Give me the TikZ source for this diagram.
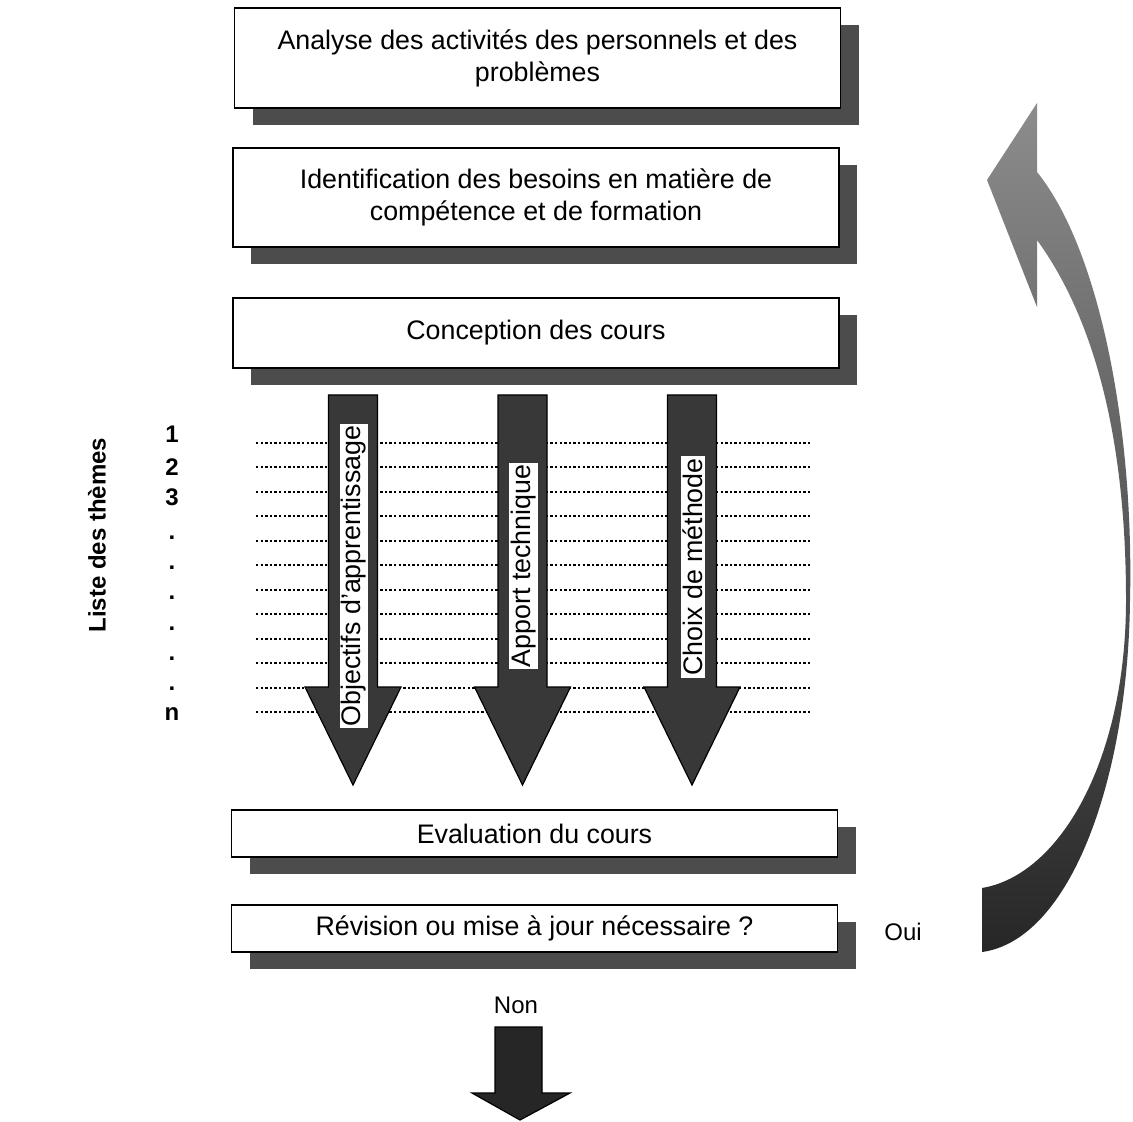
\documentclass[tikz,border=0pt]{standalone}
\usepackage{fontspec}
\setmainfont{Liberation Sans}
\usetikzlibrary{shadows}

\tikzset{
  stepbox/.style={draw=black, line width=0.9pt, fill=white, minimum width=303pt,
    align=center, inner sep=2pt, font=\fontsize{13.4}{16}\selectfont,
    drop shadow={shadow xshift=9pt, shadow yshift=-8.5pt, fill=black!70, opacity=1}},
  themeline/.style={line width=1pt, dash pattern=on 1.2pt off 1.1pt},
  fatarrow/.style={draw=black, line width=0.6pt, fill=black!78},
  armlabel/.style={fill=white, inner sep=1pt, rotate=90, font=\fontsize{13.4}{15}\selectfont},
  themenum/.style={font=\bfseries\fontsize{12}{14}\selectfont, anchor=base},
  plain/.style={font=\fontsize{12}{14}\selectfont}
}

\begin{document}
\begin{tikzpicture}[x=0.5pt,y=-0.5pt]
\useasboundingbox (0,0) rectangle (1133,1122);

% lines of the themes
\foreach \i in {0,...,11}
  \draw[themeline] (256,{443+24.45*\i}) -- (812,{443+24.45*\i});

\node[stepbox, minimum height=50pt] (analyse) at (537.5,58) {Analyse des activités des personnels et des\\probl\`emes};
\node[stepbox, minimum height=49.5pt] (besoins) at (536,197.5) {Identification des besoins en matière de\\compétence et de formation};
\node[stepbox, minimum height=35pt] (conception) at (536,333) {Conception des cours};
\node[stepbox, minimum height=23.5pt] (evaluation) at (534.5,833.5) {Evaluation du cours};
\node[stepbox, minimum height=23.5pt] (revision) at (534.5,928.5) {Révision ou mise à jour nécessaire ?};

% three arrows through the themes
\foreach \xc/\name/\txt/\ty in {353/objectifs/{Objectifs d'apprentissage}/576,
    522.5/apport/{Apport technique}/566, 692/choix/{Choix de méthode}/567} {
  \filldraw[fatarrow] (\xc-24.5,395) -- (\xc+24.5,395) -- (\xc+24.5,687) -- (\xc+48,687)
    -- (\xc,785) -- (\xc-48,687) -- (\xc-24.5,687) -- cycle;
  \node[armlabel] (\name) at (\xc+1,\ty) {\txt};
}

\node[rotate=90, font=\bfseries\fontsize{12}{14}\selectfont] (liste) at (97,535) {Liste des thèmes};
\foreach \lbl/\yy [count=\k] in {1/443,2/475,3/505,./539,./569,./599,./630,./660,./690,n/720}
  \node[themenum] (num\k) at (172,\yy) {\lbl};

\node[plain] (oui) at (903,932) {Oui};
\node[plain] (non) at (516,1005) {Non};

% way out
\filldraw[fatarrow, fill=black!85] (495,1027) -- (542,1027) -- (542,1093) -- (570,1093)
  -- (520,1120) -- (472,1093) -- (495,1093) -- cycle;

% loop back
\shade[top color=black!45, middle color=black!3, bottom color=black!85]
  (982,952) .. controls (1070,940) and (1128,780) .. (1130,600)
  .. controls (1134,430) and (1100,250) .. (1037,172)
  -- (1037,103) -- (987,180) -- (1037,307) -- (1037,240)
  .. controls (1095,320) and (1126,440) .. (1126,600)
  .. controls (1126,760) and (1060,875) .. (982,888) -- cycle;
\end{tikzpicture}
\end{document}
